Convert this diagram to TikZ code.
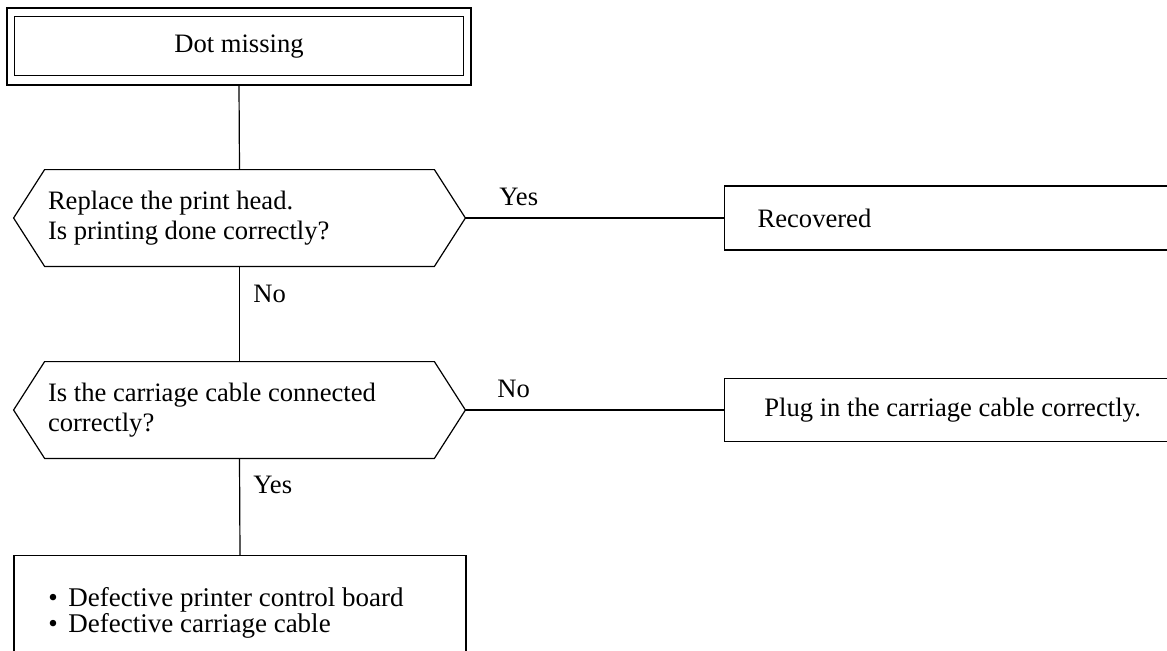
\documentclass[tikz,border=0pt]{standalone}
\usepackage{fontspec}
\setmainfont{Liberation Serif}
\usetikzlibrary{calc}
\begin{document}
\begin{tikzpicture}[x=0.5pt,y=-0.5pt,
  every node/.style={font=\fontsize{13.3pt}{15pt}\selectfont},
  frame/.style={draw, line width=0.6pt, inner sep=0pt},
  decision/.style={minimum width=225.5pt, minimum height=48pt, inner xsep=17pt,
    inner ysep=0pt, text width=191.5pt, align=flush left},
  result/.style={frame, anchor=west, minimum width=223pt, minimum height=32pt},
  branch/.style={anchor=base west, inner sep=0pt},
  link/.style={line width=0.6pt}]
\useasboundingbox (0,0) rectangle (1167,650);
\clip (0,0) rectangle (1167,650);

% start box with a double frame
\node[frame, minimum width=232pt, minimum height=38.5pt] (top) at (239,46.5) {Dot missing};
\draw[link] ([shift={(4pt,-4.5pt)}]top.north west) rectangle ([shift={(-4pt,5pt)}]top.south east);

% decisions
\node[decision] (h1) at (239.5,218) {Replace the print head.\\Is printing done correctly?};
\node[decision] (h2) at (239.5,410) {Is the carriage cable connected\\correctly?};
\foreach \h in {h1,h2}{
  \draw[link] (\h.west) -- ([xshift=15.5pt]\h.north west) -- ([xshift=-15.5pt]\h.north east)
    -- (\h.east) -- ([xshift=-15.5pt]\h.south east) -- ([xshift=15.5pt]\h.south west) -- cycle;
}

% outcomes
\node[result, inner xsep=16.5pt, text width=190pt, align=flush left] (rec) at (724,218) {Recovered};
\node[result, minimum width=228pt, minimum height=31.5pt] (plug) at (724,410) {Plug in the carriage cable correctly.};
\node[frame, anchor=north, minimum width=226pt, minimum height=60pt] (causes) at (240,555) {};
\node[anchor=north west, inner sep=0pt, align=flush left, font=\fontsize{13.5pt}{13pt}\selectfont] (list) at (48,587)
  {\makebox[10pt][l]{\textbullet}Defective printer control board\\
   \makebox[10pt][l]{\textbullet}Defective carriage cable};

% connectors
\draw[link] (top.south) -- (h1.north);
\draw[link] (h1.south) -- (h2.north);
\draw[link] (h2.south) -- (causes.north);
\draw[link] (h1.east) -- (rec.west);
\draw[link] (h2.east) -- (plug.west);

% branch labels
\node[branch] (y1) at (499,205) {Yes};
\node[branch] (n1) at (253,302) {No};
\node[branch] (n2) at (497,397) {No};
\node[branch] (y2) at (253,493) {Yes};
\end{tikzpicture}
\end{document}
